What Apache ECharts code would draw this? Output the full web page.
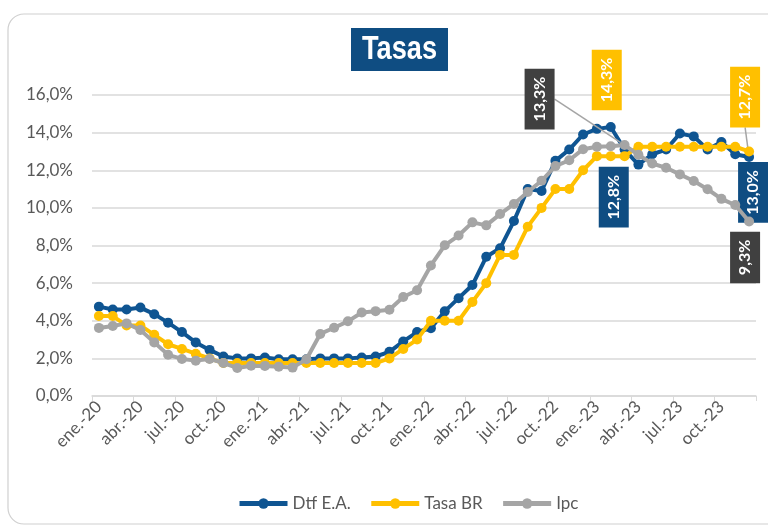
<!DOCTYPE html>
<html>
<head>
<meta charset="utf-8">
<script src="https://cdn.jsdelivr.net/npm/echarts@6/dist/echarts.min.js"></script>
<style>
html,body{margin:0;padding:0;background:#fff;}
#chart{width:768px;height:529px;}
</style>
</head>
<body>
<div id="chart"></div>
<script>
const categories = [
 'ene.-20','feb.-20','mar.-20','abr.-20','may.-20','jun.-20','jul.-20','ago.-20','sep.-20','oct.-20','nov.-20','dic.-20',
 'ene.-21','feb.-21','mar.-21','abr.-21','may.-21','jun.-21','jul.-21','ago.-21','sep.-21','oct.-21','nov.-21','dic.-21',
 'ene.-22','feb.-22','mar.-22','abr.-22','may.-22','jun.-22','jul.-22','ago.-22','sep.-22','oct.-22','nov.-22','dic.-22',
 'ene.-23','feb.-23','mar.-23','abr.-23','may.-23','jun.-23','jul.-23','ago.-23','sep.-23','oct.-23','nov.-23','dic.-23'
];
const dtf = [
 4.75, 4.6, 4.6, 4.7, 4.35, 3.9, 3.4, 2.85, 2.45, 2.1, 2.0, 2.0,
 2.05, 1.95, 1.95, 1.95, 2.0, 2.0, 2.0, 2.05, 2.1, 2.35, 2.9, 3.4,
 3.6, 4.5, 5.2, 5.9, 7.4, 7.85, 9.3, 11.0, 10.9, 12.5, 13.1, 13.9,
 14.2, 14.3, 13.1, 12.3, 12.85, 13.1, 13.95, 13.8, 13.1, 13.5, 12.85, 12.7
];
const tasaBR = [
 4.25, 4.25, 3.75, 3.75, 3.25, 2.75, 2.5, 2.25, 2.0, 1.75, 1.75, 1.75,
 1.75, 1.75, 1.75, 1.75, 1.75, 1.75, 1.75, 1.75, 1.75, 2.0, 2.5, 3.0,
 4.0, 4.0, 4.0, 5.0, 6.0, 7.5, 7.5, 9.0, 10.0, 11.0, 11.0, 12.0,
 12.75, 12.75, 12.75, 13.25, 13.25, 13.25, 13.25, 13.25, 13.25, 13.25, 13.25, 13.0
];
const ipc = [
 3.62, 3.72, 3.86, 3.51, 2.85, 2.19, 1.97, 1.88, 1.97, 1.75, 1.49, 1.61,
 1.60, 1.56, 1.51, 1.95, 3.30, 3.63, 3.97, 4.44, 4.51, 4.58, 5.26, 5.62,
 6.94, 8.01, 8.53, 9.23, 9.07, 9.67, 10.21, 10.84, 11.44, 12.22, 12.53, 13.12,
 13.25, 13.28, 13.34, 12.82, 12.36, 12.13, 11.78, 11.43, 10.99, 10.48, 10.15, 9.28
];
const yTicks = [0, 2, 4, 6, 8, 10, 12, 14, 16];

const BLUE = '#0F5592', YEL = '#FFC000', GRAY = '#A5A5A5';
const BOX_BLUE = '#0F4D82', BOX_GRAY = '#404040';
const FONT = 'Lato';

// label styling per series / index (styles + screen offsets only)
const labelStyles = {
  dtf: { 37: {bg: YEL, dx: -4, dy: -47}, 47: {bg: YEL, dx: -4, dy: -60, line: true} },
  tasa: { 37: {bg: BOX_BLUE, dx: 3, dy: 41}, 47: {bg: BOX_BLUE, dx: 4, dy: 41} },
  ipc: { 38: {bg: BOX_GRAY, dx: -85, dy: -46, line: true}, 47: {bg: BOX_GRAY, dx: -4, dy: 36} }
};
const fmt = v => v.toFixed(1).replace('.', ',') + '%';

function buildData(arr, key) {
  const spec = labelStyles[key];
  return arr.map((v, i) => {
    const s = spec[i];
    if (!s) return v;
    return {
      value: v,
      label: {
        show: true, position: 'inside', rotate: 90,
        formatter: p => fmt(p.value),
        color: '#fff', fontWeight: 'bold', fontSize: 16, fontFamily: FONT,
        backgroundColor: s.bg, padding: [7, 8]
      },
      labelLine: s.line ? {show: true, lineStyle: {color: GRAY, width: 1.5}} : {show: false}
    };
  });
}
// offsets are applied in the label's rotated frame -> convert screen offsets
function layoutFor(key) {
  return function (params) {
    const s = labelStyles[key][params.dataIndex];
    if (!s) return {};
    return {dx: -s.dy, dy: s.dx};
  };
}
function mkSeries(name, arr, key, color, z) {
  return {
    name: name, type: 'line', data: buildData(arr, key), z: z,
    symbol: 'circle', symbolSize: 10, showSymbol: true, showAllSymbol: true,
    lineStyle: {color: color, width: 4},
    itemStyle: {color: color},
    labelLayout: layoutFor(key),
    emphasis: {disabled: true},
    animation: false
  };
}

const chart = echarts.init(document.getElementById('chart'), null, {renderer: 'canvas'});
chart.setOption({
  backgroundColor: '#fff',
  animation: false,
  graphic: [{
    type: 'rect', silent: true, z: -10,
    shape: {x: 8, y: 14, width: 790, height: 510, r: 16},
    style: {fill: '#fff', stroke: '#D0D0D0', lineWidth: 1.2}
  }, {
    type: 'rect', silent: true, z: 10,
    shape: {x: 351, y: 28, width: 97, height: 43},
    style: {fill: BOX_BLUE}
  }, {
    type: 'text', silent: true, z: 11,
    x: 399.5, y: 50, scaleX: 0.8,
    style: {text: 'Tasas', fill: '#fff', font: 'bold 34px "Liberation Sans", Arial, sans-serif',
            align: 'center', verticalAlign: 'middle'}
  }],
  legend: {
    bottom: 12, left: 232, itemWidth: 48, itemHeight: 13, itemGap: 18,
    lineStyle: {width: 5},
    textStyle: {color: '#595959', fontSize: 17, fontFamily: FONT},
    data: ['Dtf E.A.', 'Tasa BR', 'Ipc']
  },
  grid: {left: 92, right: 12, top: 95, bottom: 133},
  xAxis: {
    type: 'category', data: categories, boundaryGap: true,
    axisLine: {lineStyle: {color: '#D9D9D9', width: 1.5}},
    axisTick: {show: true, interval: 2, length: 5, lineStyle: {color: '#D9D9D9'}},
    axisLabel: {interval: 2, rotate: 45, margin: 8, color: '#595959', fontSize: 17, fontFamily: FONT},
    splitLine: {show: false}
  },
  yAxis: {
    type: 'value', min: yTicks[0], max: yTicks[yTicks.length - 1], interval: yTicks[1] - yTicks[0],
    axisLine: {show: false}, axisTick: {show: false},
    axisLabel: {formatter: v => fmt(v), color: '#595959', fontSize: 17, fontFamily: FONT, margin: 19},
    splitLine: {lineStyle: {color: '#D9D9D9', width: 1.5}}
  },
  series: [
    mkSeries('Dtf E.A.', dtf, 'dtf', BLUE, 2),
    mkSeries('Tasa BR', tasaBR, 'tasa', YEL, 3),
    mkSeries('Ipc', ipc, 'ipc', GRAY, 4)
  ]
});
</script>
</body>
</html>
